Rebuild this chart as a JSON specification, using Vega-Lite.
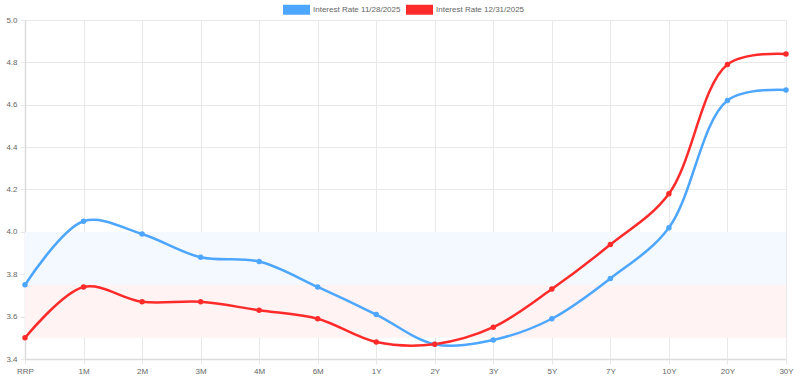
{
  "$schema": "https://vega.github.io/schema/vega-lite/v6.json",
  "autosize": {"type": "none"},
  "width": 761,
  "height": 339,
  "padding": {"left": 25, "top": 20, "right": 14, "bottom": 26},
  "background": "white",
  "config": {
    "font": "Liberation Sans",
    "view": {"stroke": null},
    "axis": {
      "labelFont": "Liberation Sans",
      "labelFontSize": 8,
      "labelColor": "#666666",
      "gridColor": "#e8e8e8",
      "gridWidth": 1,
      "tickColor": "#e8e8e8",
      "domainColor": "#dcdcdc",
      "domainWidth": 1.5,
      "tickSize": 5,
      "title": null
    }
  },
  "datasets": {
    "rates": [
      {"tenor": "RRP", "series": "Interest Rate 11/28/2025", "rate": 3.75},
      {"tenor": "1M", "series": "Interest Rate 11/28/2025", "rate": 4.05},
      {"tenor": "2M", "series": "Interest Rate 11/28/2025", "rate": 3.99},
      {"tenor": "3M", "series": "Interest Rate 11/28/2025", "rate": 3.88},
      {"tenor": "4M", "series": "Interest Rate 11/28/2025", "rate": 3.86},
      {"tenor": "6M", "series": "Interest Rate 11/28/2025", "rate": 3.74},
      {"tenor": "1Y", "series": "Interest Rate 11/28/2025", "rate": 3.61},
      {"tenor": "2Y", "series": "Interest Rate 11/28/2025", "rate": 3.47},
      {"tenor": "3Y", "series": "Interest Rate 11/28/2025", "rate": 3.49},
      {"tenor": "5Y", "series": "Interest Rate 11/28/2025", "rate": 3.59},
      {"tenor": "7Y", "series": "Interest Rate 11/28/2025", "rate": 3.78},
      {"tenor": "10Y", "series": "Interest Rate 11/28/2025", "rate": 4.02},
      {"tenor": "20Y", "series": "Interest Rate 11/28/2025", "rate": 4.62},
      {"tenor": "30Y", "series": "Interest Rate 11/28/2025", "rate": 4.67},
      {"tenor": "RRP", "series": "Interest Rate 12/31/2025", "rate": 3.50},
      {"tenor": "1M", "series": "Interest Rate 12/31/2025", "rate": 3.74},
      {"tenor": "2M", "series": "Interest Rate 12/31/2025", "rate": 3.67},
      {"tenor": "3M", "series": "Interest Rate 12/31/2025", "rate": 3.67},
      {"tenor": "4M", "series": "Interest Rate 12/31/2025", "rate": 3.63},
      {"tenor": "6M", "series": "Interest Rate 12/31/2025", "rate": 3.59},
      {"tenor": "1Y", "series": "Interest Rate 12/31/2025", "rate": 3.48},
      {"tenor": "2Y", "series": "Interest Rate 12/31/2025", "rate": 3.47},
      {"tenor": "3Y", "series": "Interest Rate 12/31/2025", "rate": 3.55},
      {"tenor": "5Y", "series": "Interest Rate 12/31/2025", "rate": 3.73},
      {"tenor": "7Y", "series": "Interest Rate 12/31/2025", "rate": 3.94},
      {"tenor": "10Y", "series": "Interest Rate 12/31/2025", "rate": 4.18},
      {"tenor": "20Y", "series": "Interest Rate 12/31/2025", "rate": 4.79},
      {"tenor": "30Y", "series": "Interest Rate 12/31/2025", "rate": 4.84}
    ],
    "blueBand": [{"lo": 3.75, "hi": 4.0}],
    "pinkBand": [{"lo": 3.5, "hi": 3.75}]
  },
  "layer": [
    {
      "data": {"name": "blueBand"},
      "mark": {"type": "rect", "color": "#f3f9ff"},
      "encoding": {
        "y": {"field": "lo", "type": "quantitative", "scale": {"domain": [3.4, 5.0], "nice": false, "zero": false}},
        "y2": {"field": "hi"}
      }
    },
    {
      "data": {"name": "pinkBand"},
      "mark": {"type": "rect", "color": "#fff3f3"},
      "encoding": {
        "y": {"field": "lo", "type": "quantitative"},
        "y2": {"field": "hi"}
      }
    },
    {
      "data": {"name": "rates"},
      "encoding": {
        "x": {
          "field": "tenor",
          "type": "ordinal",
          "sort": ["RRP", "1M", "2M", "3M", "4M", "6M", "1Y", "2Y", "3Y", "5Y", "7Y", "10Y", "20Y", "30Y"],
          "scale": {"type": "point", "padding": 0},
          "axis": {"labelAngle": 0, "grid": true, "labelPadding": 3}
        },
        "y": {
          "field": "rate",
          "type": "quantitative",
          "scale": {"domain": [3.4, 5.0], "nice": false, "zero": false},
          "axis": {"values": [3.4, 3.6, 3.8, 4.0, 4.2, 4.4, 4.6, 4.8, 5.0], "format": ".1f", "grid": true, "labelPadding": 3}
        },
        "color": {
          "field": "series",
          "type": "nominal",
          "scale": {"domain": ["Interest Rate 11/28/2025", "Interest Rate 12/31/2025"], "range": ["#4da6ff", "#ff2b2b"]},
          "legend": {
            "title": null,
            "orient": "none",
            "direction": "horizontal",
            "legendX": 258,
            "legendY": -24,
            "padding": 0,
            "symbolType": "M-1,-0.37H1V0.37H-1Z",
            "symbolSize": 729,
            "symbolStrokeWidth": 0,
            "symbolOpacity": 1,
            "labelFont": "Liberation Sans",
            "labelFontSize": 8,
            "labelColor": "#666666",
            "labelOffset": 3,
            "columnPadding": 5
          }
        }
      },
      "layer": [
        {
          "mark": {"type": "line", "interpolate": "catmull-rom", "strokeWidth": 2.5}
        },
        {
          "mark": {"type": "point", "filled": true, "size": 30, "opacity": 1}
        }
      ]
    }
  ]
}
